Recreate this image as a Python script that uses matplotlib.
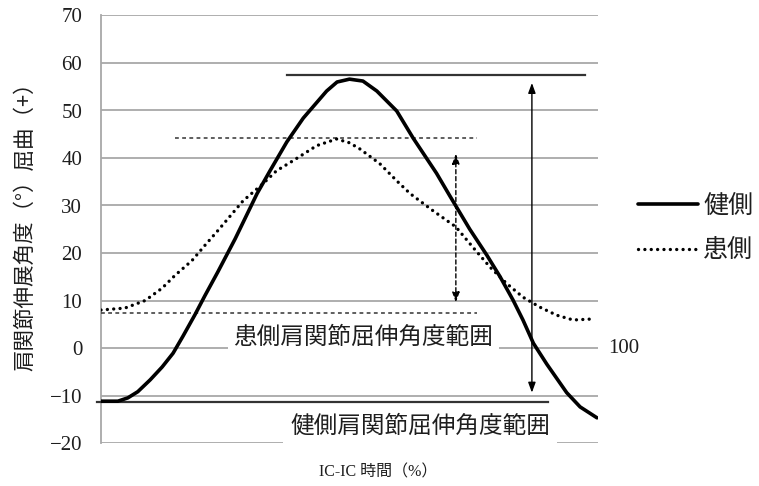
import matplotlib
matplotlib.use('Agg')
import matplotlib.pyplot as plt

# 時間 (%) と角度 (deg)
x_kenso = [0, 3.4, 5.4, 7.4, 9.9, 12.3, 14.5, 16.5, 18.9, 20.9, 23.5, 25.4, 27, 31.4, 34, 37.4, 40.7,
           45.4, 47.5, 50, 52.7, 55.5, 59.5, 62.8, 67.5, 70.2, 74.2, 77.6, 80.3, 82.9, 84.9, 87, 89.7,
           93.7, 96.4, 99.8]
y_kenso = [-11.2, -11.2, -10.5, -9.2, -6.7, -4, -1.1, 2.5, 7.0, 11.0, 16.0, 19.8, 23.0, 32.5, 37.3, 43.4, 48.4,
           54.1, 56.0, 56.6, 56.2, 54.1, 49.9, 44.2, 36.8, 32.0, 25.0, 19.6, 15.0, 10.1, 5.9, 1.0, -3.4,
           -9.4, -12.4, -14.7]

x_kanso = [0, 4.8, 8.9, 12.3, 14.9, 18.3, 20.9, 23.5, 28.6, 32.6, 35.3, 38.6, 43.4, 47.4, 50, 52.1, 56.1,
           59.5, 62.2, 66.8, 71.4, 75, 78.3, 81.6, 84.9, 88.3, 91.7, 95, 98.8]
y_kanso = [8, 8.4, 10, 12.6, 15.3, 18.4, 21.6, 24.7, 31, 34.6, 37.3, 39.4, 42.6, 44, 43.2, 41.9, 38.8,
           35.2, 32.5, 28.9, 25.5, 21, 17, 13.6, 10.7, 8.6, 6.9, 5.9, 6.1]

yticks = [-20, -10, 0, 10, 20, 30, 40, 50, 60, 70]
legend_labels = ['健側', '患側']
ylabel = '肩関節伸展角度（°）屈曲（+）'
xlabel = 'IC-IC 時間（%）'
label_kanso = '患側肩関節屈伸角度範囲'
label_kenso = '健側肩関節屈伸角度範囲'

# 範囲を示す線
kenso_max, kenso_min = 57.4, -11.3
kanso_max, kanso_min = 44.2, 7.3

serif = ['Liberation Serif', 'Noto Sans CJK JP']
cjk = ['Noto Sans CJK JP', 'DejaVu Sans']
txtcol = '#1e1e1e'

fig = plt.figure(figsize=(7.59, 4.86), dpi=100)
ax = fig.add_axes([101/759, 1-443/486, 497/759, 427.5/486])

ax.set_xlim(0, 100)
ax.set_ylim(-20, 70)
ax.set_yticks(yticks)
ax.set_xticks([])
for t in yticks:
    ax.axhline(t, color='#a8a8a8', lw=1.3, zorder=0)
for s in ['top', 'right', 'bottom']:
    ax.spines[s].set_visible(False)
ax.spines['left'].set_color('#a8a8a8')
ax.spines['left'].set_linewidth(1.3)
ax.tick_params(axis='y', length=0, pad=13.5, labelsize=15, labelcolor=txtcol)
for lbl in ax.get_yticklabels():
    lbl.set_family(serif)

# 曲線
l1, = ax.plot(x_kenso, y_kenso, color='black', lw=2.6, solid_capstyle='round',
              solid_joinstyle='round', zorder=4)
l2, = ax.plot(x_kanso, y_kanso, color='black', lw=2.4, linestyle=(0, (0.01, 1.9)),
              dash_capstyle='round', zorder=4)

# 範囲線
ax.plot([37.4, 97.4], [kenso_max, kenso_max], color='#333333', lw=1.6, zorder=3)
ax.plot([-0.8, 90], [kenso_min, kenso_min], color='#333333', lw=1.6, zorder=3, clip_on=False)
ax.plot([14.9, 75.7], [kanso_max, kanso_max], color='#333333', lw=1.1, linestyle=(0, (2.5, 2.2)), zorder=3)
ax.plot([0, 75.7], [kanso_min, kanso_min], color='#333333', lw=1.1, linestyle=(0, (2.5, 2.2)), zorder=3)

# 矢印
ax.annotate('', xy=(86.7, -9.4), xytext=(86.7, 55.8),
            arrowprops=dict(arrowstyle='<|-|>,head_length=0.6,head_width=0.22', color='black', lw=1.0,
                            shrinkA=0, shrinkB=0), zorder=5)
ax.annotate('', xy=(71.4, 9.6), xytext=(71.4, 40.9),
            arrowprops=dict(arrowstyle='<|-|>,head_length=0.6,head_width=0.22', color='black', lw=1.0,
                            linestyle=(0, (3, 2)), shrinkA=0, shrinkB=0), zorder=5)

# 範囲ラベル
ax.text(52.8, 2.3, label_kanso, ha='center', va='center', fontsize=17, family=cjk, color=txtcol,
        bbox=dict(facecolor='white', edgecolor='none', pad=4), zorder=2)
ax.text(64.2, -16.6, label_kenso, ha='center', va='center', fontsize=17, family=cjk, color=txtcol,
        bbox=dict(facecolor='white', edgecolor='none', pad=5), zorder=2)

ax.text(102, 0, '100', ha='left', va='center', fontsize=15, family=serif, color=txtcol, clip_on=False)

fig.text(25/759, 1-221/486, ylabel, rotation=90, ha='center', va='center', fontsize=15.5,
         family=cjk, color=txtcol)
fig.text(378/759, 1-472/486, xlabel, ha='center', va='center', fontsize=11.5,
         family=serif, color=txtcol)

leg = fig.legend([l1, l2], legend_labels, loc='center left', bbox_to_anchor=(638/759, 1-228/486),
                 frameon=False, borderpad=0, borderaxespad=0, handlelength=2.4, handletextpad=0.2,
                 labelspacing=0.75, prop={'family': cjk, 'size': 18})
for t in leg.get_texts():
    t.set_color(txtcol)

fig.savefig('out.png', dpi=100)
